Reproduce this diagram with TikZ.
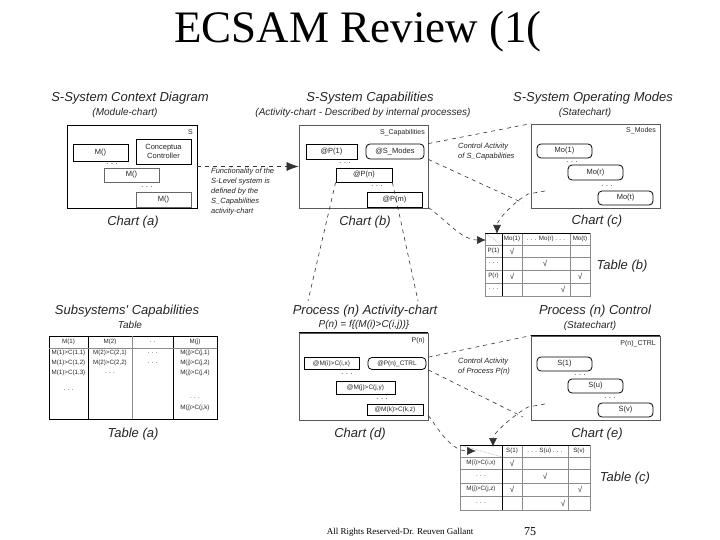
\documentclass[tikz,border=0pt]{standalone}
\usepackage{fontspec}
\setmainfont{Liberation Serif}
\newfontfamily\lsans{Liberation Sans}
\usetikzlibrary{arrows.meta,calc}
\begin{document}
\begin{tikzpicture}[x=1pt,y=-1pt,
  ibox/.style={draw=black,line width=0.8pt,inner sep=0pt,font=\lsans\fontsize{7.5}{8}\selectfont,text=black!85},
  rbox/.style={ibox,rounded corners=4pt},
  cframe/.style={draw=black!65,line width=0.7pt,inner sep=0pt},
  headtxt/.style={font=\lsans\itshape\fontsize{13}{14}\selectfont,text=black!85,inner sep=0pt},
  subtxt/.style={font=\lsans\itshape\fontsize{10}{11}\selectfont,text=black!85,inner sep=0pt},
  chartlab/.style={font=\lsans\itshape\fontsize{13}{14}\selectfont,text=black!85,inner sep=0pt},
  notetxt/.style={font=\lsans\itshape\fontsize{7.5}{10}\selectfont,align=left,text=black!85,inner sep=0pt},
  cornerlab/.style={font=\lsans\fontsize{7}{8}\selectfont,text=black!85,inner sep=0pt},
  dotstxt/.style={font=\lsans\fontsize{7}{8}\selectfont,inner sep=0pt},
  dsh/.style={draw=black!80,dash pattern=on 4pt off 4pt,line width=0.6pt},
  bigtip/.style={-{Latex[length=12pt,width=9pt]}},
  smalltip/.style={-{Latex[length=9pt,width=8pt]}},
  celltxt/.style={font=\lsans\fontsize{6.2}{7}\selectfont,inner sep=0pt,text=black!85},
  checktxt/.style={font=\lsans\fontsize{8}{8}\selectfont,inner sep=0pt,text=black!85},
  gridln/.style={draw=black!45,line width=0.5pt},
  darkln/.style={draw=black,line width=0.8pt},
]
\useasboundingbox (0,0) rectangle (720,540);
\fill[white] (0,0) rectangle (720,540);

% title and footer
\node[font=\fontsize{45}{50}\selectfont] (title) at (358,32) {ECSAM Review (1(};
\node[font=\fontsize{9}{10}\selectfont] (foot) at (400,532) {All Rights Reserved-Dr. Reuven Gallant};
\node[font=\fontsize{12}{13}\selectfont] (pg) at (530,532) {75};

% ===== top row headings
\node[headtxt] (h1) at (130,98) {S-System Context Diagram};
\node[subtxt]  (s1) at (125,113) {(Module-chart)};
\node[headtxt] (h2) at (370,98) {S-System Capabilities};
\node[subtxt]  (s2) at (363,113) {(Activity-chart - Described by internal processes)};
\node[headtxt] (h3) at (593,98) {S-System Operating Modes};
\node[subtxt]  (s3) at (585,113) {(Statechart)};

% ===== chart (a)
\node[cframe,draw=black,minimum width=130pt,minimum height=83pt] (ca) at (132,166.5) {};
\node[cornerlab,anchor=east] (lS) at (193,132) {S};
\node[ibox,minimum width=55pt,minimum height=17pt] (ma1) at (100.5,152.5) {M()};
\node[ibox,minimum width=55pt,minimum height=25pt,align=center,font=\lsans\fontsize{7.5}{9.5}\selectfont] (cc1) at (163.5,151.5) {Conceptua\\Controller};
\node[dotstxt] (da1) at (112,164) {. . .};
\node[ibox,draw=black!60,minimum width=55pt,minimum height=14pt] (ma2) at (131.5,175) {M()};
\node[dotstxt] (da2) at (147,187) {. . .};
\node[ibox,draw=black!60,minimum width=55pt,minimum height=15pt] (ma3) at (163.5,199.5) {M()};
\node[chartlab] (ta) at (133,222) {Chart (a)};

\node[notetxt,anchor=north west] (n1) at (211,168) {Functionality of the\\S-Level system is\\defined by the\\S\_Capabilities\\activity-chart};

% ===== chart (b)
\node[cframe,minimum width=129pt,minimum height=83pt] (cb) at (363.5,166.5) {};
\node[cornerlab,anchor=east] (lSC) at (425,133) {S\_Capabilities};
\node[ibox,minimum width=51pt,minimum height=15pt] (p1) at (331.5,151.5) {@P(1)};
\node[rbox,minimum width=58pt,minimum height=15pt] (smodes) at (395,151.5) {@S\_Modes};
\node[dotstxt] (db1) at (345,163) {. . .};
\node[ibox,minimum width=56pt,minimum height=14pt] (pn) at (364,175) {@P(n)};
\node[dotstxt] (db2) at (377,186) {. . .};
\node[ibox,minimum width=55pt,minimum height=15pt] (pm) at (394.5,199.5) {@P(m)};
\node[chartlab] (tb) at (365,222) {Chart (b)};

\node[notetxt,anchor=north west] (n2) at (458,143) {Control Activity\\of S\_Capabilities};

% ===== chart (c)
\node[cframe,minimum width=129pt,minimum height=84pt] (cc) at (595.5,166) {};
\node[cornerlab,anchor=east] (lSM) at (656,131) {S\_Modes};
\node[rbox,minimum width=55pt,minimum height=14pt] (mo1) at (564.5,151) {Mo(1)};
\node[dotstxt] (dc1) at (572,162) {. . .};
\node[rbox,minimum width=55pt,minimum height=15pt] (mor) at (595.5,172.5) {Mo(r)};
\node[dotstxt] (dc2) at (607,186) {. . .};
\node[rbox,minimum width=55pt,minimum height=14pt] (mot) at (625.5,198) {Mo(t)};
\node[chartlab] (tc) at (597,221) {Chart (c)};

% ===== table (b)
\draw[gridln] (485,233) rectangle (590,296);
\foreach \yy in {245,257,270,283} \draw[gridln] (485,\yy) -- (590,\yy);
\foreach \xx in {522,570} \draw[gridln] (\xx,233) -- (\xx,296);
\draw[darkln] (502,233) -- (502,296);
\draw[darkln] (485,233) -- (590,233);
\draw[black!60,densely dotted] (485,233) -- (502,245);
\node[celltxt] (bh1) at (512,239) {Mo(1)};
\node[celltxt] (bh2) at (546,239) {. . . Mo(r) . . .};
\node[celltxt] (bh3) at (580,239) {Mo(t)};
\node[celltxt] (br1) at (493.5,251) {P(1)};
\node[celltxt] (br2) at (493.5,263) {. . .};
\node[celltxt] (br3) at (493.5,276) {P(r)};
\node[celltxt] (br4) at (493.5,289) {. . .};
\node[checktxt] (bc1) at (512,251) {√};
\node[checktxt] (bc2) at (545,263) {√};
\node[checktxt] (bc3) at (512,276) {√};
\node[checktxt] (bc4) at (580,276) {√};
\node[checktxt] (bc5) at (563,289) {√};
\node[chartlab] (ttb) at (622,266) {Table (b)};

% ===== connectors top
\coordinate (clow) at (523,203);
\coordinate (cm) at (545,191);
\coordinate (tbtop) at (497,234);
\coordinate (tbleft) at (486,240);
\coordinate (d1) at (308,301);
\coordinate (d2) at (418,301);
\draw[dsh,bigtip] (ca.east) -- (cb.west);
\draw[dsh] (cb.east |- smodes.north) -- (cc.north west);
\draw[dsh] (cb.east |- smodes.south) -- (clow);
\draw[dsh,smalltip] (cm) -- ++(-17,3) .. controls +(-14,8) and +(0,-14) .. (tbtop);
\draw[dsh,smalltip] (cb.east |- pm.south) .. controls (448,222) and (462,240) .. (tbleft);
\draw[dsh] (pn.south west) -- (d1);
\draw[dsh] (pn.south east) -- (d2);

% ===== bottom headings
\node[headtxt] (h4) at (127,311) {Subsystems' Capabilities};
\node[subtxt] (s4) at (130,325) {Table};
\node[headtxt] (h5) at (365,311) {Process (n) Activity-chart};
\node[subtxt] (s5) at (364,325) {P(n) = f\{(M(i)>C(i,j))\}};
\node[headtxt] (h6) at (595,311) {Process (n) Control};
\node[subtxt] (s6) at (590,326) {(Statechart)};

% ===== table (a)
\draw[darkln] (49,336) rectangle (217,419);
\draw[darkln] (88,336) -- (88,419);
\draw[darkln] (173,336) -- (173,419);
\draw[gridln] (132,336) -- (132,419);
\draw[gridln] (49,348) -- (217,348);
\node[celltxt] (ah1) at (68.5,342) {M(1)};
\node[celltxt] (ah2) at (110,342) {M(2)};
\node[celltxt] (ah3) at (152.5,342) {. .};
\node[celltxt] (ah4) at (195,342) {M(j)};
\node[celltxt] (a11) at (68.5,353) {M(1)>C(1,1)};
\node[celltxt] (a12) at (68.5,363) {M(1)>C(1,2)};
\node[celltxt] (a13) at (68.5,373) {M(1)>C(1,3)};
\node[celltxt] (a14) at (68.5,390) {. . .};
\node[celltxt] (a21) at (110,353) {M(2)>C(2,1)};
\node[celltxt] (a22) at (110,363) {M(2)>C(2,2)};
\node[celltxt] (a23) at (110,373) {. . .};
\node[celltxt] (a31) at (152.5,353) {. . .};
\node[celltxt] (a32) at (152.5,363) {. . .};
\node[celltxt] (a41) at (195,353) {M(j)>C(j,1)};
\node[celltxt] (a42) at (195,363) {M(j)>C(j,2)};
\node[celltxt] (a43) at (195,373) {M(j)>C(j,4)};
\node[celltxt] (a44) at (195,398) {. . .};
\node[celltxt] (a45) at (195,408) {M(j)>C(j,k)};
\node[chartlab] (tta) at (133,434) {Table (a)};

% ===== chart (d)
\node[cframe,minimum width=129pt,minimum height=87pt] (cd) at (363.5,376.5) {};
\draw[darkln] (cd.north west) -- (cd.north east);
\node[cornerlab,anchor=east] (lPn) at (425,341) {P(n)};
\node[ibox,minimum width=55pt,minimum height=12pt,font=\lsans\fontsize{6.5}{7}\selectfont] (mi) at (331.5,363.5) {@M(i)>C(i,x)};
\node[rbox,minimum width=58pt,minimum height=12pt,font=\lsans\fontsize{6.5}{7}\selectfont] (ctrl) at (397,363.5) {@P(n)\_CTRL};
\node[dotstxt] (dd1) at (347,374) {. . .};
\node[ibox,minimum width=59pt,minimum height=13pt,font=\lsans\fontsize{6.5}{7}\selectfont] (mj) at (365.5,387.5) {@M(j)>C(j,y)};
\node[dotstxt] (dd2) at (382,399) {. . .};
\node[ibox,minimum width=56pt,minimum height=11pt,font=\lsans\fontsize{6.5}{7}\selectfont] (pk) at (395,409.5) {@M(k)>C(k,z)};
\node[chartlab] (td) at (360,434) {Chart (d)};

\node[notetxt,anchor=north west] (n3) at (458,358) {Control Activity\\of Process P(n)};

% ===== chart (e)
\node[cframe,minimum width=129pt,minimum height=84pt] (ce) at (595.5,378) {};
\draw[darkln] (ce.north west) -- (ce.north east);
\node[cornerlab,anchor=east] (lCT) at (656,344) {P(n)\_CTRL};
\node[rbox,minimum width=55pt,minimum height=14pt] (s1n) at (564.5,364) {S(1)};
\node[dotstxt] (de1) at (580,375) {. . .};
\node[rbox,minimum width=55pt,minimum height=14pt] (sun) at (595.5,386) {S(u)};
\node[dotstxt] (de2) at (610,398) {. . .};
\node[rbox,minimum width=55pt,minimum height=14pt] (svn) at (625.5,410) {S(v)};
\node[chartlab] (te) at (597,434) {Chart (e)};

% ===== table (c)
\draw[gridln] (460,445) rectangle (590,510);
\foreach \yy in {457,469,483,496} \draw[gridln] (460,\yy) -- (590,\yy);
\foreach \xx in {522,568} \draw[gridln] (\xx,445) -- (\xx,510);
\draw[darkln] (502,445) -- (502,510);
\draw[darkln] (460,445) -- (590,445);
\draw[black!60,densely dotted] (460,445) -- (502,457);
\node[celltxt] (ch1) at (512,451) {S(1)};
\node[celltxt] (ch2) at (545,451) {. . . S(u) . . .};
\node[celltxt] (ch3) at (579,451) {S(v)};
\node[celltxt] (cr1) at (481,463) {M(i)>C(i,x)};
\node[celltxt] (cr2) at (481,476) {. . .};
\node[celltxt] (cr3) at (481,489) {M(j)>C(j,z)};
\node[celltxt] (cr4) at (481,503) {. . .};
\node[checktxt] (cc1v) at (512,463) {√};
\node[checktxt] (cc2v) at (545,476) {√};
\node[checktxt] (cc3v) at (512,489) {√};
\node[checktxt] (cc4v) at (580,489) {√};
\node[checktxt] (cc5v) at (563,503) {√};
\node[chartlab] (ttc) at (625,478) {Table (c)};

% ===== connectors bottom
\coordinate (elow) at (523,417);
\coordinate (em) at (545,404);
\coordinate (tctop) at (493,447);
\coordinate (tcleft) at (476,451);
\draw[dsh] (cd.east |- ctrl.north) -- (ce.north west);
\draw[dsh] (cd.east |- ctrl.south) -- (elow);
\draw[dsh,smalltip] (em) -- ++(-17,3) .. controls +(-14,8) and +(0,-14) .. (tctop);
\draw[dsh,smalltip] (cd.east |- pk.south) .. controls (440,432) and (452,451) .. (tcleft);
\end{tikzpicture}
\end{document}
